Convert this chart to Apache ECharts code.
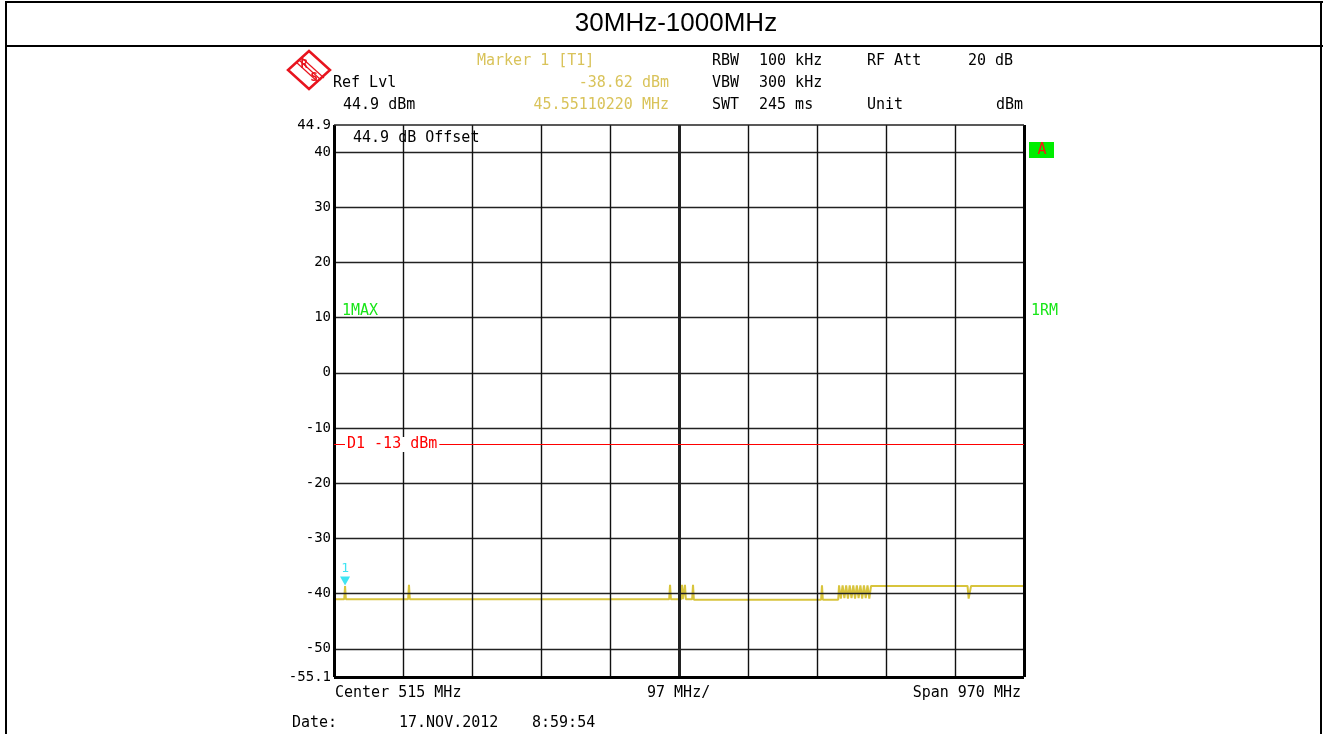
<!DOCTYPE html>
<html>
<head>
<meta charset="utf-8">
<title>30MHz-1000MHz</title>
<script src="https://cdn.jsdelivr.net/npm/echarts@6/dist/echarts.min.js"></script>
<style>
  html, body { margin: 0; padding: 0; background: #fff; }
  #chart { width: 1327px; height: 734px; }
</style>
</head>
<body>
<div id="chart"></div>
<script>
// sweep, 30 MHz .. 1000 MHz, level in dBm (max hold trace)
var freqMHz = [30, 44.4, 45.55, 46.7, 134.2, 135.4, 136.6, 501.2, 502.4, 503.6,
  518.0, 519.2, 520.4, 522.2, 523.4, 524.6, 533.5, 534.7, 535.9,
  714.8, 716.0, 717.2, 738.8, 740.0,
  742.5, 745.0, 747.5, 750.0, 752.5, 755.0, 757.5, 760.0, 762.5,
  765.0, 767.5, 770.0, 772.5, 775.0, 777.5, 780.0, 782.5, 785.0,
  920.6, 922.2, 924.0, 925.6, 1000];
var levelDbm = [-41.0, -41.0, -38.62, -41.0, -41.0, -38.4, -41.0, -41.0, -38.4, -41.0,
  -41.0, -38.4, -41.0, -41.0, -38.4, -41.0, -41.0, -38.4, -41.1,
  -41.1, -38.5, -41.1, -41.1, -38.5,
  -40.9, -38.5, -40.8, -38.5, -40.9, -38.5, -40.8, -38.5, -40.9,
  -38.5, -40.8, -38.5, -40.9, -38.5, -40.8, -38.5, -40.9, -38.6,
  -38.6, -40.9, -41.0, -38.6, -38.6];

var startMHz = 30, stopMHz = 1000;
var refLevel = 44.9, bottomLevel = -55.1;
var yGridLines = [40, 30, 20, 10, 0, -10, -20, -30, -40, -50];
var yTickLabels = [44.9, 40, 30, 20, 10, 0, -10, -20, -30, -40, -50, -55.1];
var xGridLines = [127, 224, 321, 418, 612, 709, 806, 903];
var centerMHz = 515;
var limitD1 = -13;
var marker1 = [45.55110220, -38.62];

var mono = '"DejaVu Sans Mono", "Liberation Mono", monospace';
var yellowText = '#d9c35a';
var green = '#19e619';
var rsRed = '#e8141e';

var trace = freqMHz.map(function (f, i) { return [f, levelDbm[i]]; });

// grid lines and frame
var gridMarks = [];
yGridLines.forEach(function (v) {
  gridMarks.push({ yAxis: v, lineStyle: { color: '#222', width: 1.3, type: 'solid' } });
});
xGridLines.forEach(function (v) {
  gridMarks.push({ xAxis: v, lineStyle: { color: '#111', width: 1.4, type: 'solid' } });
});
gridMarks.push({ xAxis: centerMHz, lineStyle: { color: '#222', width: 3, type: 'solid' } });
gridMarks.push({ xAxis: startMHz, lineStyle: { color: '#000', width: 3, type: 'solid' } });
gridMarks.push({ xAxis: stopMHz, lineStyle: { color: '#000', width: 3, type: 'solid' } });
gridMarks.push({ yAxis: bottomLevel, lineStyle: { color: '#000', width: 3, type: 'solid' } });
gridMarks.push({ yAxis: refLevel, lineStyle: { color: '#222', width: 1.5, type: 'solid' } });

function txt(x, y, s, color, align, font) {
  return {
    type: 'text', x: x, y: y, z: 20,
    style: {
      text: s, fill: color || '#000', font: font || ('15px ' + mono),
      align: align || 'left', verticalAlign: 'middle'
    }
  };
}

var graphics = [
  // table frame
  { type: 'rect', shape: { x: 5, y: 1, width: 1318, height: 2 }, style: { fill: '#000' } },
  { type: 'rect', shape: { x: 5, y: 45, width: 1318, height: 2 }, style: { fill: '#000' } },
  { type: 'rect', shape: { x: 5, y: 1, width: 2, height: 733 }, style: { fill: '#000' } },
  { type: 'rect', shape: { x: 1320, y: 1, width: 2, height: 733 }, style: { fill: '#000' } },
  txt(676, 24, '30MHz-1000MHz', '#000', 'center', '26px "Liberation Sans", Arial, sans-serif'),
  // R&S logo
  { type: 'polygon', shape: { points: [[309, 51], [330, 70], [309, 89], [288, 70]] },
    style: { fill: '#fff', stroke: rsRed, lineWidth: 2.5 } },
  { type: 'line', shape: { x1: 296, y1: 62, x2: 318, y2: 82 }, style: { stroke: rsRed, lineWidth: 1.2 } },
  { type: 'line', shape: { x1: 299, y1: 60, x2: 321, y2: 80 }, style: { stroke: rsRed, lineWidth: 1.2 } },
  { type: 'line', shape: { x1: 302, y1: 58, x2: 324, y2: 78 }, style: { stroke: rsRed, lineWidth: 1.2 } },
  txt(304, 65, 'R', rsRed, 'center', 'bold 12px ' + mono),
  txt(314, 78, 'S', rsRed, 'center', 'bold 12px ' + mono),
  // header
  txt(333, 83, 'Ref Lvl'),
  txt(343, 105, '44.9 dBm'),
  txt(477, 61, 'Marker 1 [T1]', yellowText),
  txt(669, 83, '-38.62 dBm', yellowText, 'right'),
  txt(669, 105, '45.55110220 MHz', yellowText, 'right'),
  txt(712, 61, 'RBW'), txt(759, 61, '100 kHz'), txt(867, 61, 'RF Att'), txt(968, 61, '20 dB'),
  txt(712, 83, 'VBW'), txt(759, 83, '300 kHz'),
  txt(712, 105, 'SWT'), txt(759, 105, '245 ms'), txt(867, 105, 'Unit'), txt(1023, 105, 'dBm', '#000', 'right'),
  // in-screen annotations
  txt(353, 138, '44.9 dB Offset'),
  txt(342, 311, '1MAX', green),
  txt(1031, 311, '1RM', green),
  { type: 'rect', shape: { x: 1029, y: 142, width: 25, height: 16 }, style: { fill: '#00ee00' }, z: 20 },
  txt(1042, 150, 'A', '#ff1010', 'center'),
  // footer
  txt(335, 693, 'Center 515 MHz'),
  txt(647, 693, '97 MHz/'),
  txt(1021, 693, 'Span 970 MHz', '#000', 'right'),
  txt(292, 723, 'Date:'),
  txt(399, 723, '17.NOV.2012'),
  txt(532, 723, '8:59:54')
];

var chart = echarts.init(document.getElementById('chart'), null, { renderer: 'canvas' });
chart.setOption({
  animation: false,
  backgroundColor: '#fff',
  grid: { left: 334, top: 125, width: 690, height: 552, show: false },
  xAxis: {
    type: 'value', min: startMHz, max: stopMHz,
    axisLine: { show: false }, axisTick: { show: false },
    axisLabel: { show: false }, splitLine: { show: false }
  },
  yAxis: {
    type: 'value', min: bottomLevel, max: refLevel,
    axisLine: { show: false }, axisTick: { show: false }, splitLine: { show: false },
    axisLabel: {
      customValues: yTickLabels, showMinLabel: true, showMaxLabel: true,
      margin: 3, color: '#000', fontFamily: mono, fontSize: 14,
      formatter: function (v) { return String(v); }
    }
  },
  graphic: graphics,
  series: [
    {
      name: 'grid', type: 'line', data: [], z: 1, silent: true,
      markLine: {
        silent: true, symbol: ['none', 'none'], animation: false,
        label: { show: false },
        data: gridMarks.concat([{
          yAxis: limitD1,
          lineStyle: { color: '#ff0000', width: 1, type: 'solid' },
          label: {
            show: true, position: 'insideStartTop', formatter: 'D1 -13 dBm',
            color: '#ff0000', fontFamily: mono, fontSize: 15,
            distance: [11, 0], verticalAlign: 'middle',
            backgroundColor: '#fff', padding: [0, 2]
          }
        }])
      }
    },
    {
      name: 'Trace 1', type: 'line', data: trace, z: 3,
      showSymbol: false, silent: true,
      lineStyle: { color: '#d8c43c', width: 2 },
      markPoint: {
        silent: true,
        data: [{
          coord: marker1, symbol: 'triangle', symbolRotate: 180,
          symbolSize: [10, 9], symbolOffset: [0, -5],
          itemStyle: { color: '#3fe4f2' },
          label: { show: true, position: 'top', distance: 1, formatter: '1',
            color: '#3fe4f2', fontFamily: mono, fontSize: 13 }
        }]
      }
    }
  ]
});
</script>
</body>
</html>
